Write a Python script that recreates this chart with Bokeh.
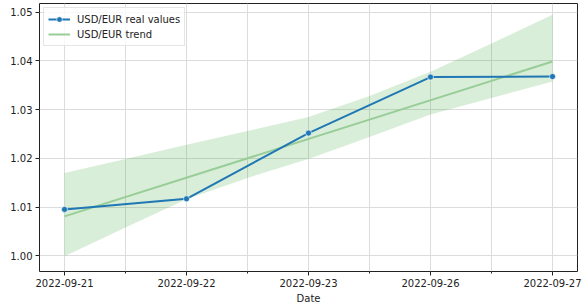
from bokeh.plotting import figure
from bokeh.models import FixedTicker, Range1d, ColumnDataSource, Legend, LegendItem
from bokeh.embed import file_html
from bokeh.resources import INLINE

dates = ["2022-09-21", "2022-09-22", "2022-09-23", "2022-09-26", "2022-09-27"]
real_values = [1.00953, 1.0117, 1.0252, 1.0367, 1.0368]
trend_x = [0, 4]
trend_values = [1.0081, 1.0399]
band_x = [0, 0.5, 1, 1.5, 2, 2.5, 3, 3.5, 4]
band_lower = [0.9999, 1.0058, 1.0116, 1.0160, 1.0199, 1.0244, 1.0290, 1.0324, 1.0358]
band_upper = [1.0170, 1.0199, 1.0228, 1.0256, 1.0285, 1.0328, 1.0378, 1.0436, 1.0495]
y_ticks = [1.00, 1.01, 1.02, 1.03, 1.04, 1.05]

idx = list(range(len(dates)))
FONT = "DejaVu Sans"
TXT = "#222222"

p = figure(width=584, height=307, output_backend="svg", toolbar_location=None,
           x_range=Range1d(-0.205, 4.205), y_range=Range1d(0.99678, 1.0518),
           min_border_left=39, min_border_right=7, min_border_top=3, min_border_bottom=36)

p.background_fill_color = "white"
p.outline_line_color = "#222222"
p.outline_line_width = 1

band = p.varea(x=band_x, y1=band_lower, y2=band_upper, fill_color="#2ca02c", fill_alpha=0.18)
trend = p.line(trend_x, trend_values, line_color="#98cd98", line_width=2)
src = ColumnDataSource(dict(x=idx, y=real_values))
real_line = p.line("x", "y", source=src, line_color="#1f77b4", line_width=2)
real_pts = p.scatter("x", "y", source=src, size=6, fill_color="#1f77b4",
                     line_color="white", line_width=0.6)

# axes
p.xaxis.ticker = FixedTicker(ticks=idx, minor_ticks=[0.5, 1.5, 2.5, 3.5])
p.xaxis.major_label_overrides = {i: d for i, d in zip(idx, dates)}
p.yaxis.ticker = FixedTicker(ticks=y_ticks, minor_ticks=[])
p.yaxis.major_label_overrides = {t: f"{t:.2f}" for t in y_ticks}
p.xaxis.axis_label = "Date"
for ax in (p.xaxis[0], p.yaxis[0]):
    ax.axis_line_color = None
    ax.major_tick_line_color = "#222222"
    ax.minor_tick_line_color = "#222222"
    ax.major_tick_out = 4
    ax.major_tick_in = 0
    ax.minor_tick_out = 2
    ax.minor_tick_in = 0
    ax.major_label_text_font = FONT
    ax.major_label_text_font_size = "10px"
    ax.major_label_text_color = TXT
    ax.major_label_standoff = 3
    ax.axis_label_text_font = FONT
    ax.axis_label_text_font_size = "10px"
    ax.axis_label_text_font_style = "normal"
    ax.axis_label_text_color = TXT
    ax.axis_label_standoff = 3

p.xgrid.ticker = FixedTicker(ticks=[0, 0.5, 1, 1.5, 2, 2.5, 3, 3.5, 4])
p.ygrid.ticker = FixedTicker(ticks=y_ticks)
for g in (p.xgrid[0], p.ygrid[0]):
    g.grid_line_color = "#dcdcdc"
    g.grid_line_width = 1

legend = Legend(items=[
    LegendItem(label="USD/EUR real values", renderers=[real_line, real_pts]),
    LegendItem(label="USD/EUR trend", renderers=[trend]),
], location="top_left")
legend.label_text_font = FONT
legend.label_text_font_size = "10px"
legend.label_text_color = TXT
legend.border_line_color = "#cccccc"
legend.border_line_width = 1
legend.background_fill_alpha = 0.8
legend.glyph_width = 22
legend.glyph_height = 14
legend.label_height = 14
legend.spacing = 1
legend.padding = 4
legend.margin = 4
legend.label_standoff = 7
p.add_layout(legend)

open("out.html", "w").write(file_html(p, INLINE))
